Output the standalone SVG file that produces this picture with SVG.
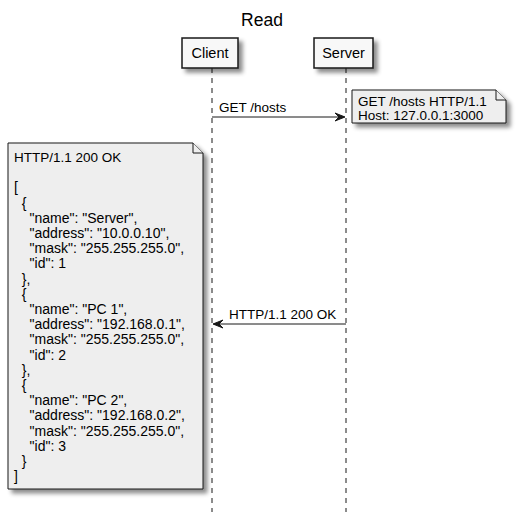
<svg xmlns="http://www.w3.org/2000/svg" width="517" height="520" viewBox="0 0 517 520">
<style>
text{font-family:"Liberation Sans",Arial,sans-serif;font-size:13.5px;fill:#000}
.title{font-size:17.5px}
.part{font-size:14.5px}
.box{fill:#F8F8F8;stroke:#181818;stroke-width:1.5}
.note{fill:#EEEEEE;stroke:#181818;stroke-width:1}
.life{stroke:#181818;stroke-width:1;stroke-dasharray:5,5;fill:none}
.msg{stroke:#181818;stroke-width:1;fill:none}
.head{fill:#181818;stroke:#181818;stroke-width:1}
.pre{white-space:pre}
.json{font-size:14px}
</style>
<defs>
<filter id="sh" x="-20%" y="-20%" width="150%" height="150%">
<feDropShadow dx="4" dy="4" stdDeviation="2" flood-color="#000" flood-opacity="0.45"/>
</filter>
</defs>
<text class="title" x="262" y="26" text-anchor="middle">Read</text>
<g id="connectors">
<line class="life" x1="212" y1="68" x2="212" y2="512"/>
<line class="life" x1="346" y1="68" x2="346" y2="512"/>
<g id="msg-get">
<line class="msg" x1="212" y1="117" x2="344" y2="117"/>
<polygon class="head" points="335,113 345,117 335,121 339,117"/>
<text x="219" y="112">GET /hosts</text>
</g>
<g id="msg-resp">
<line class="msg" x1="346" y1="324" x2="214" y2="324"/>
<polygon class="head" points="223,320 213,324 223,328 219,324"/>
<text x="229" y="319">HTTP/1.1 200 OK</text>
</g>
</g>
<g id="client">
<rect class="box" x="182" y="38" width="56" height="30" filter="url(#sh)"/>
<text class="part" x="210" y="58" text-anchor="middle">Client</text>
</g>
<g id="server">
<rect class="box" x="314" y="38" width="59" height="30" filter="url(#sh)"/>
<text class="part" x="343.5" y="58" text-anchor="middle">Server</text>
</g>
<g id="note-request">
<path class="note" d="M352,90 H496 L506,100 V123 H352 Z" filter="url(#sh)"/>
<path class="note" d="M496,90 V100 H506"/>
<text x="358" y="106">GET /hosts HTTP/1.1</text>
<text x="358" y="120">Host: 127.0.0.1:3000</text>
</g>
<g id="note-response">
<path class="note" d="M8,143 H193 L203,153 V489 H8 Z" filter="url(#sh)"/>
<path class="note" d="M193,143 V153 H203"/>
<text class="pre" x="14" y="162">HTTP/1.1 200 OK</text>
<text class="pre json" x="14" y="192.4">[</text>
<text class="pre json" x="14" y="207.6">  {</text>
<text class="pre json" x="14" y="222.8">    "name": "Server",</text>
<text class="pre json" x="14" y="238">    "address": "10.0.0.10",</text>
<text class="pre json" x="14" y="253.2">    "mask": "255.255.255.0",</text>
<text class="pre json" x="14" y="268.4">    "id": 1</text>
<text class="pre json" x="14" y="283.6">  },</text>
<text class="pre json" x="14" y="298.8">  {</text>
<text class="pre json" x="14" y="314">    "name": "PC 1",</text>
<text class="pre json" x="14" y="329.2">    "address": "192.168.0.1",</text>
<text class="pre json" x="14" y="344.4">    "mask": "255.255.255.0",</text>
<text class="pre json" x="14" y="359.6">    "id": 2</text>
<text class="pre json" x="14" y="374.8">  },</text>
<text class="pre json" x="14" y="390">  {</text>
<text class="pre json" x="14" y="405.2">    "name": "PC 2",</text>
<text class="pre json" x="14" y="420.4">    "address": "192.168.0.2",</text>
<text class="pre json" x="14" y="435.6">    "mask": "255.255.255.0",</text>
<text class="pre json" x="14" y="450.8">    "id": 3</text>
<text class="pre json" x="14" y="466">  }</text>
<text class="pre json" x="14" y="481.2">]</text>
</g>
</svg>
